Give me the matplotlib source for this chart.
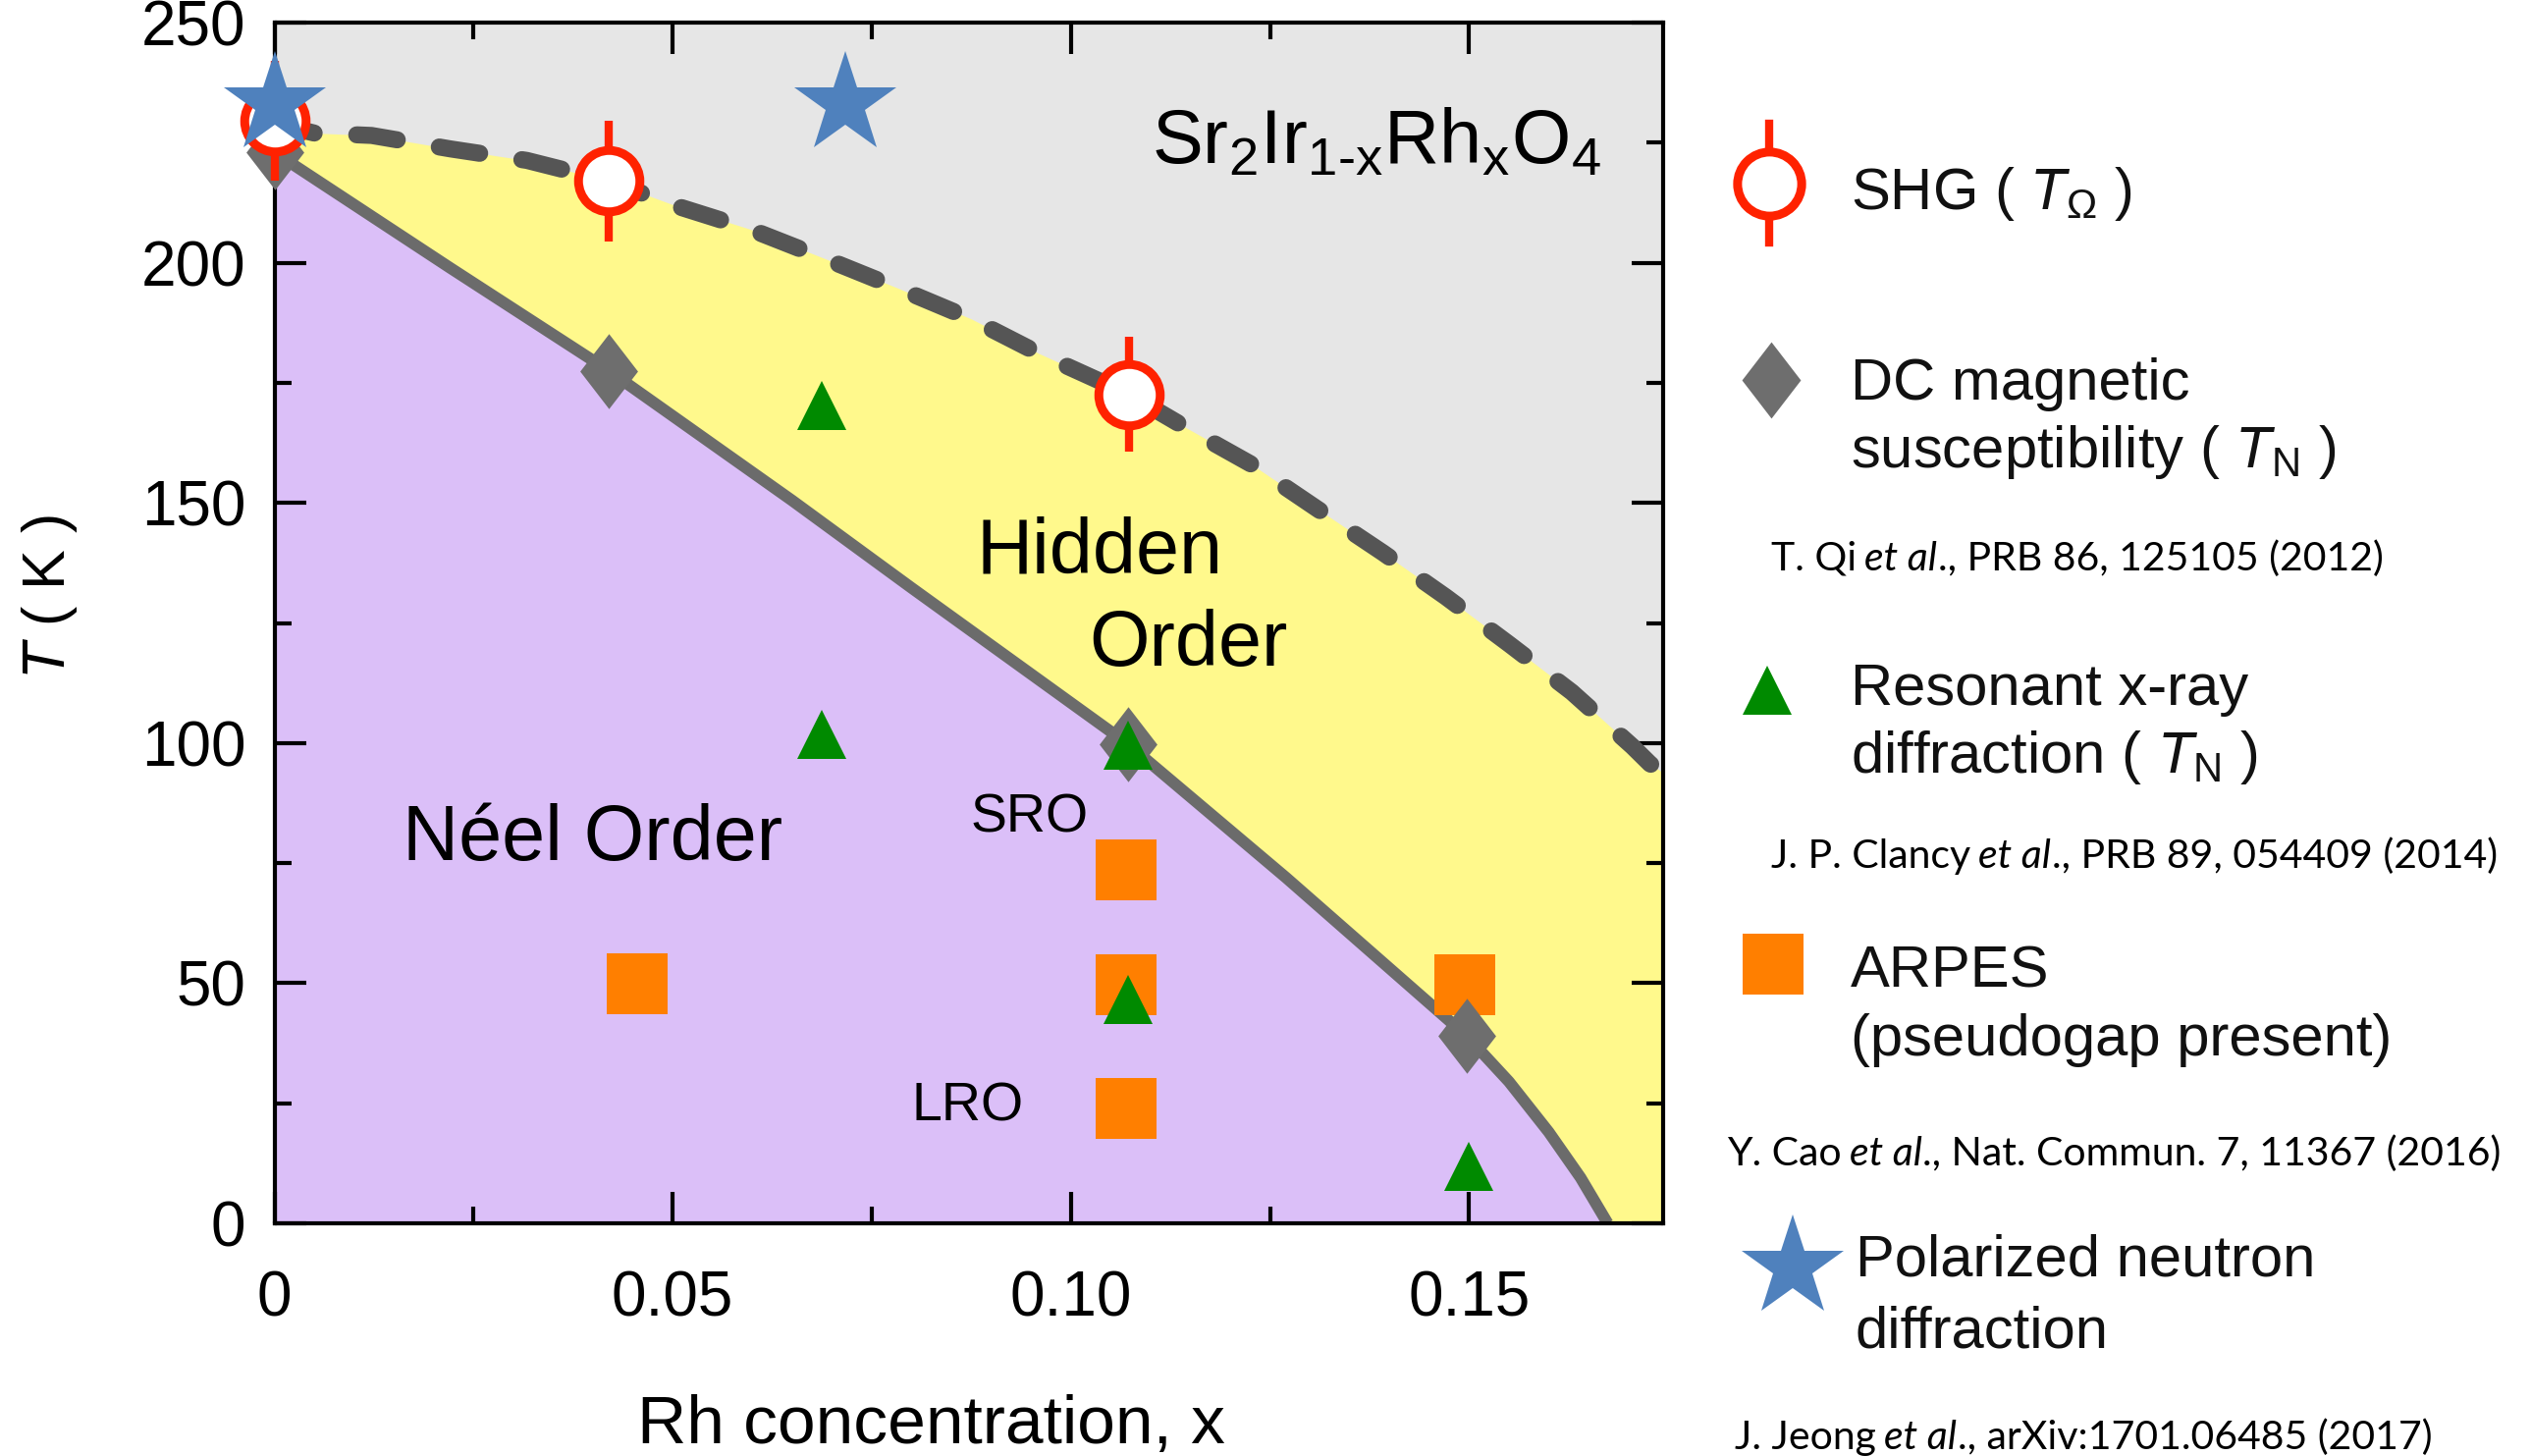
import matplotlib
matplotlib.use("Agg")
from matplotlib import pyplot as plt
from matplotlib.lines import Line2D
from matplotlib.ticker import MultipleLocator

plt.rcParams["font.family"] = ["Liberation Sans", "DejaVu Sans"]
plt.rcParams["mathtext.fontset"] = "custom"
plt.rcParams["mathtext.rm"] = "Liberation Sans"
plt.rcParams["mathtext.it"] = "Liberation Sans:italic"
plt.rcParams["mathtext.bf"] = "Liberation Sans:bold"

# phase boundaries: Rh concentration x vs temperature (K)
neel_x = [0, 0.022, 0.042, 0.065, 0.080, 0.107, 0.127, 0.1497, 0.155, 0.160, 0.164, 0.1674]
neel_T = [223, 199, 177.5, 150.5, 132.3, 100, 72, 39, 29.5, 19, 9.5, 0]
hidden_x = [0, 0.005, 0.0122, 0.0221, 0.0317, 0.042, 0.0505, 0.0597, 0.0689, 0.0783,
            0.0875, 0.096, 0.1073, 0.1143, 0.1227, 0.1309, 0.1392, 0.1471, 0.1551,
            0.1629, 0.1705, 0.1727, 0.176]
hidden_T = [229, 227, 226.5, 223.7, 221.3, 217, 211.8, 207, 201, 194.7,
            188.3, 181.1, 172.6, 165.8, 158, 148.8, 139.6, 130.4, 120.5,
            110.6, 99.3, 95.7, 92]

# measurements
shg_x = [0, 0.042, 0.1073]
shg_T = [229.5, 217, 172.6]
shg_err = [12.5, 12.5, 12]
dc_x = [0, 0.042, 0.1072, 0.1497]
dc_T = [223, 177.4, 99.8, 39]
rxd_x = [0.0687, 0.0687, 0.1072, 0.1072, 0.15]
rxd_T = [170.3, 101.9, 99.5, 46.6, 11.8]
arpes_x = [0.0455, 0.1069, 0.1069, 0.1069, 0.1495]
arpes_T = [49.8, 73.6, 49.7, 23.9, 49.7]
pnd_x = [0, 0.0717]
pnd_T = [233, 233]

x_ticks = [0, 0.05, 0.10, 0.15]
x_ticklabels = ["0", "0.05", "0.10", "0.15"]
y_ticks = [0, 50, 100, 150, 200, 250]

GRAY_BG = "#e6e6e6"
YELLOW = "#fff98c"
PURPLE = "#dbbff8"
RED = "#ff2200"
DIAMOND_C = "#6e6e6e"
GREEN = "#008a00"
ORANGE = "#ff7f00"
BLUE = "#4f81bd"
DIAMOND = [(0, 1), (0.77, 0), (0, -1), (-0.77, 0)]

W, H = 2578, 1483
fig = plt.figure(figsize=(W / 100, H / 100), dpi=100)
ax = fig.add_axes([279.5 / W, 1 - 1246 / H, 1414 / W, 1223 / H])
ax.set_facecolor(GRAY_BG)

ax.fill_between(hidden_x, 0, hidden_T, color=YELLOW, lw=0, zorder=1)
ax.fill_between(neel_x, 0, neel_T, color=PURPLE, lw=0, zorder=1.1)
ax.plot(hidden_x, hidden_T, color="#555555", lw=12.5, dashes=(2.4, 2.5),
        dash_capstyle="round", zorder=2)
ax.plot(neel_x, neel_T, color="#6b6b6b", lw=8.5, solid_capstyle="butt",
        solid_joinstyle="round", zorder=2)

ax.plot(arpes_x, arpes_T, "s", ms=44.5, mew=0, color=ORANGE, zorder=3, clip_on=False)
ax.plot(dc_x, dc_T, ls="none", marker=DIAMOND, ms=55, mew=0, color=DIAMOND_C,
        zorder=4, clip_on=False)
ax.plot(rxd_x, rxd_T, "^", ms=36, mew=0, color=GREEN, zorder=5, clip_on=False)
eb = ax.errorbar(shg_x, shg_T, yerr=shg_err, fmt="o", ms=45, mfc="white", mec=RED,
                 mew=6.5, ecolor=RED, elinewidth=6, capsize=0, zorder=6)
eb[0].set_clip_on(False)
for col in eb[2]:
    col.set_clip_on(False)
ax.plot(pnd_x, pnd_T, "*", ms=78, mew=0, color=BLUE, zorder=7, clip_on=False)

ax.set_xlim(0, 0.1743)
ax.set_ylim(0, 250)
ax.set_xticks(x_ticks, labels=x_ticklabels)
ax.set_yticks(y_ticks)
ax.xaxis.set_minor_locator(MultipleLocator(0.025))
ax.yaxis.set_minor_locator(MultipleLocator(25))
ax.tick_params(which="both", direction="in", top=True, right=True, width=3, color="black")
ax.tick_params(which="major", length=23)
ax.tick_params(which="minor", length=12)
ax.tick_params(axis="x", labelsize=46, pad=34)
ax.tick_params(axis="y", labelsize=46, pad=21)
for sp in ax.spines.values():
    sp.set_linewidth(3)
    sp.set_zorder(2.5)

ax.set_xlabel("Rh concentration, x", fontsize=50, va="baseline")
ax.xaxis.set_label_coords(0.473, -0.183)
ax.set_ylabel("$T$ ( K )", fontsize=44, va="center", ha="center")
ax.yaxis.set_label_coords(-0.162, 0.522)

ax.text(0.1102, 220.6, r"Sr$_2$Ir$_{\text{1-x}}$Rh$_{\text{x}}$O$_4$", fontsize=56,
        ha="left", va="baseline")
ax.text(0.1036, 135.3, "Hidden", fontsize=57, ha="center", va="baseline")
ax.text(0.1147, 116.1, "Order", fontsize=57, ha="center", va="baseline")
ax.text(0.040, 75.6, "Néel Order", fontsize=57, ha="center", va="baseline")
ax.text(0.0948, 81.4, "SRO", fontsize=40, ha="center", va="baseline")
ax.text(0.087, 21.3, "LRO", fontsize=40, ha="center", va="baseline")


# legend on the right, positions in figure pixels
def fx(px):
    return px / W


def fy(py):
    return 1 - py / H


def add_marker(px, py, **kw):
    fig.add_artist(Line2D([fx(px)], [fy(py)], transform=fig.transFigure, ls="none", **kw))


fig.add_artist(Line2D([fx(1802)] * 2, [fy(126), fy(247)], transform=fig.transFigure,
                      color=RED, lw=6))
add_marker(1802, 186.6, marker="o", ms=47, mfc="white", mec=RED, mew=6.5)
add_marker(1804, 386.6, marker=DIAMOND, ms=56, mew=0, color=DIAMOND_C)
add_marker(1800, 703, marker="^", ms=36, mew=0, color=GREEN)
add_marker(1806, 982, marker="s", ms=45, mew=0, color=ORANGE)
add_marker(1826, 1291, marker="*", ms=78, mew=0, color=BLUE)

legend_lines = [
    (1884.8, 213, "SHG ( $T_{\\mathrm{\\Omega}}$ )"),
    (1884.8, 406.7, "DC magnetic"),
    (1884.8, 476, "susceptibility ( $T_{\\mathrm{N}}$ )"),
    (1884.8, 718, "Resonant x-ray"),
    (1884.8, 787, "diffraction ( $T_{\\mathrm{N}}$ )"),
    (1884.8, 1005, "ARPES"),
    (1884.8, 1075, "(pseudogap present)"),
    (1890, 1299, "Polarized neutron"),
    (1890, 1372.6, "diffraction"),
]
for px, py, s in legend_lines:
    fig.text(fx(px), fy(py), s, fontsize=43, ha="left", va="baseline", color="#111111")

citations = [
    (1803.6, 581, "T. Qi", "., PRB 86, 125105 (2012)"),
    (1803.6, 884, "J. P. Clancy", "., PRB 89, 054409 (2014)"),
    (1758.8, 1186.7, "Y. Cao", "., Nat. Commun. 7, 11367 (2016)"),
    (1767, 1476, "J. Jeong", "., arXiv:1701.06485 (2017)"),
]
for px, py, name, rest in citations:
    t1 = fig.text(fx(px), fy(py), name, fontsize=29.5, family="Lato", va="baseline")
    t2 = ax.annotate("et al", xy=(1, 0), xycoords=t1, xytext=(6, 0),
                     textcoords="offset points", fontsize=29.5, family="Lato",
                     style="italic", va="bottom", annotation_clip=False)
    ax.annotate(rest, xy=(1, 0), xycoords=t2, xytext=(0.5, 0),
                textcoords="offset points", fontsize=29.5, family="Lato",
                va="bottom", annotation_clip=False)

fig.savefig("out.png", dpi=100)
